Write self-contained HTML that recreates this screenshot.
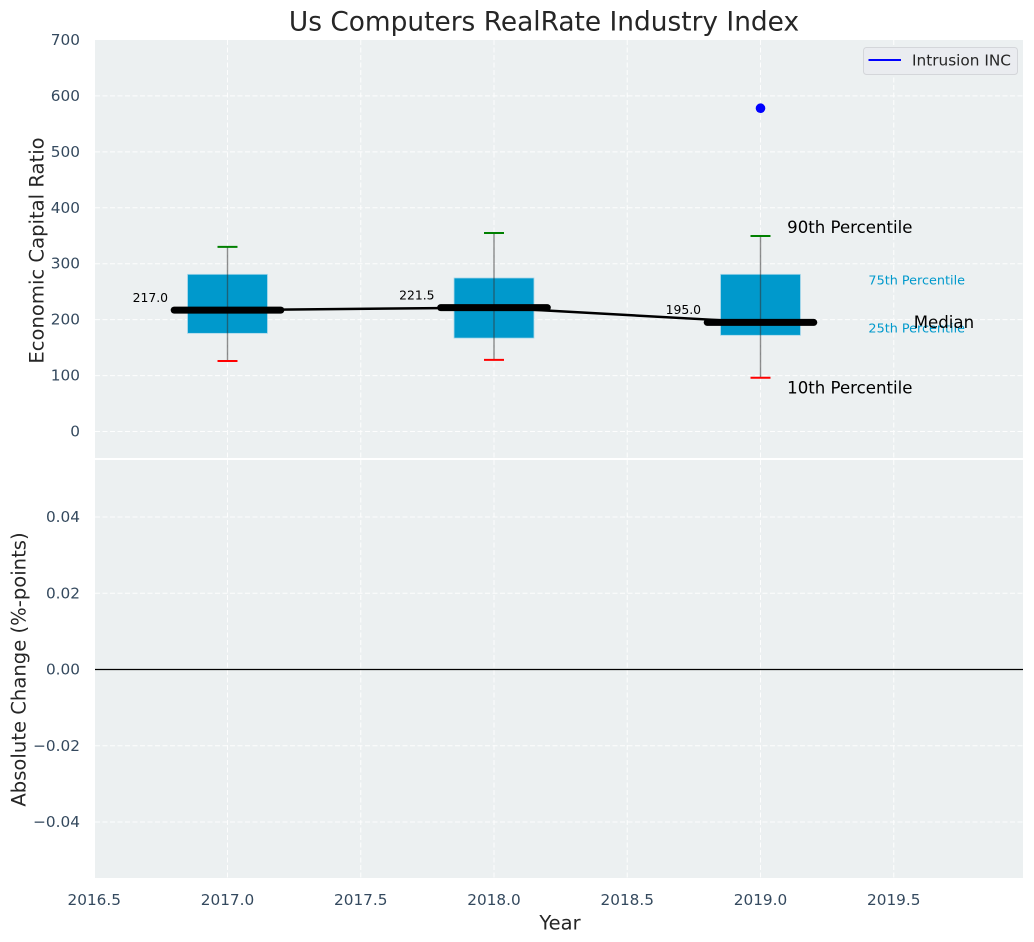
<!DOCTYPE html>
<html>
<head>
<meta charset="utf-8">
<title>Us Computers RealRate Industry Index</title>
<style>
html,body{margin:0;padding:0;background:#fff;width:1034px;height:942px;overflow:hidden}
svg{display:block}
text{font-family:"DejaVu Sans","Liberation Sans",sans-serif}
</style>
</head>
<body>
<svg id="chart" width="1034" height="942" viewBox="0 0 1034 942" xmlns="http://www.w3.org/2000/svg"></svg>
<script>
const years = [2017, 2018, 2019];
const p90 = [330, 355, 349.5];
const p75 = [281, 274.5, 281];
const medians = [217, 221.5, 195];
const p25 = [175.5, 167, 172];
const p10 = [126, 128, 96];
const companyYears = [2019];
const companyValues = [578];
const xTicks = [2016.5, 2017, 2017.5, 2018, 2018.5, 2019, 2019.5];
const xTickLabels = ['2016.5', '2017.0', '2017.5', '2018.0', '2018.5', '2019.0', '2019.5'];
const topTicks = [0, 100, 200, 300, 400, 500, 600, 700];
const bottomTicks = [-0.04, -0.02, 0, 0.02, 0.04];
const bottomTickLabels = ['\u22120.04', '\u22120.02', '0.00', '0.02', '0.04'];

const NS = 'http://www.w3.org/2000/svg';
const svg = document.getElementById('chart');
const L = 95, R = 1023, T1 = 40, B1 = 458, T2 = 460, B2 = 878;
const X = v => 227.5 + (v - 2017) * 266.5;
const Y = v => 431.5 - v * 0.5593;
const Y2 = v => 669.5 - v * 3812.5;
const TICK = '#34495e';

function el(tag, attrs, parent) {
  const e = document.createElementNS(NS, tag);
  for (const k in attrs) e.setAttribute(k, attrs[k]);
  (parent || svg).appendChild(e);
  return e;
}
function label(str, x, y, size, fill, anchor, parent) {
  const t = el('text', {x: x, y: y, 'font-size': size, fill: fill, 'text-anchor': anchor || 'start', 'dominant-baseline': 'central'}, parent);
  t.textContent = str;
  return t;
}

const topPanel = el('rect', {x: L, y: T1, width: R - L, height: B1 - T1, fill: '#ecf0f1'});


const bottomPanel = el('rect', {x: L, y: T2, width: R - L, height: B2 - T2, fill: '#ecf0f1'});



const grid = el('g', {stroke: '#fff', 'stroke-width': 1, 'stroke-dasharray': '5 2.5', fill: 'none', opacity: 0.9});


xTicks.forEach(t => {
  if (t === 2016.5) return;
  el('line', {x1: X(t), x2: X(t), y1: T1, y2: B1}, grid);
  el('line', {x1: X(t), x2: X(t), y1: T2, y2: B2}, grid);
});
topTicks.forEach(t => { if (t !== 700) el('line', {x1: L, x2: R, y1: Y(t), y2: Y(t)}, grid); });
bottomTicks.forEach(t => { if (t !== 0) el('line', {x1: L, x2: R, y1: Y2(t), y2: Y2(t)}, grid); });

const zero = el('line', {x1: L, x2: R, y1: Y2(0), y2: Y2(0), stroke: '#000', 'stroke-width': 1.3});



const boxW = 0.3, capW = 0.0375, medW = 0.2;
years.forEach((yr, i) => {
  const g = el('g', {});
  
  
  const box = el('rect', {x: X(yr - boxW / 2), y: Y(p75[i]), width: X(yr + boxW / 2) - X(yr - boxW / 2), height: Y(p25[i]) - Y(p75[i]), fill: '#0099cc', stroke: '#a9d8ea', 'stroke-width': 0.8}, g);
  
  
  const w = el('line', {x1: X(yr), x2: X(yr), y1: Y(p90[i]), y2: Y(p10[i]), stroke: '#333', 'stroke-opacity': 0.55, 'stroke-width': 1.4}, g);
  
  
  const hi = el('line', {x1: X(yr - capW), x2: X(yr + capW), y1: Y(p90[i]), y2: Y(p90[i]), stroke: '#008000', 'stroke-width': 2}, g);
  
  
  const lo = el('line', {x1: X(yr - capW), x2: X(yr + capW), y1: Y(p10[i]), y2: Y(p10[i]), stroke: '#ff0000', 'stroke-width': 2}, g);
  
  
});

const trend = el('polyline', {points: years.map((yr, i) => X(yr) + ',' + Y(medians[i])).join(' '), fill: 'none', stroke: '#000', 'stroke-width': 2.5});



years.forEach((yr, i) => {
  const m = el('line', {x1: X(yr - medW), x2: X(yr + medW), y1: Y(medians[i]), y2: Y(medians[i]), stroke: '#000', 'stroke-width': 7, 'stroke-linecap': 'round'});
  
  
  const v = label(medians[i].toFixed(1), X(yr - 0.223), Y(medians[i] + 23), 12.4, '#000', 'end');
  
  
});

companyYears.forEach((yr, i) => {
  const d = el('circle', {cx: X(yr), cy: Y(companyValues[i]), r: 4.8, fill: '#0000ff'});
  
  
});

const last = years.length - 1;
const a90 = label('90th Percentile', X(years[last] + 0.1), Y(p90[last] + 15), 16.6, '#000');


const a10 = label('10th Percentile', X(years[last] + 0.1), Y(p10[last] - 18), 16.6, '#000');


const a75 = label('75th Percentile', X(years[last] + 0.405), Y(p75[last] - 12), 12.8, '#0099cc');


const a25 = label('25th Percentile', X(years[last] + 0.405), Y(p25[last] + 11), 12.8, '#0099cc');


const aMed = label('Median', X(years[last] + 0.575), Y(medians[last]), 16.6, '#000');



xTicks.forEach((t, i) => {
  const l = label(xTickLabels[i], X(t), 900, 15.3, TICK, 'middle');
  
  
});
topTicks.forEach(t => {
  const l = label(String(t), 80, Y(t), 15.3, TICK, 'end');
  
  
});
bottomTicks.forEach((t, i) => {
  const l = label(bottomTickLabels[i], 80, Y2(t), 15.3, TICK, 'end');
  
  
});

const title = label('Us Computers RealRate Industry Index', 544, 22, 26.4, '#262626', 'middle');


const xt = label('Year', 560, 923, 19.5, '#262626', 'middle');


const y1t = label('Economic Capital Ratio', 0, 0, 19.6, '#262626', 'middle');
y1t.setAttribute('transform', 'translate(37 250.5) rotate(-90)');


const y2t = label('Absolute Change (%-points)', 0, 0, 19.6, '#262626', 'middle');
y2t.setAttribute('transform', 'translate(19 669.5) rotate(-90)');



const legend = el('g', {});


const lb = el('rect', {x: 863.5, y: 47.5, width: 154, height: 27, rx: 3, fill: '#eaecf0', stroke: '#d4d6da', 'stroke-width': 1}, legend);


const ll = el('line', {x1: 868.5, x2: 901, y1: 60, y2: 60, stroke: '#0000ff', 'stroke-width': 2}, legend);


const lt = label('Intrusion INC', 912, 60.5, 15.3, '#262626', 'start', legend);


</script>
</body>
</html>
